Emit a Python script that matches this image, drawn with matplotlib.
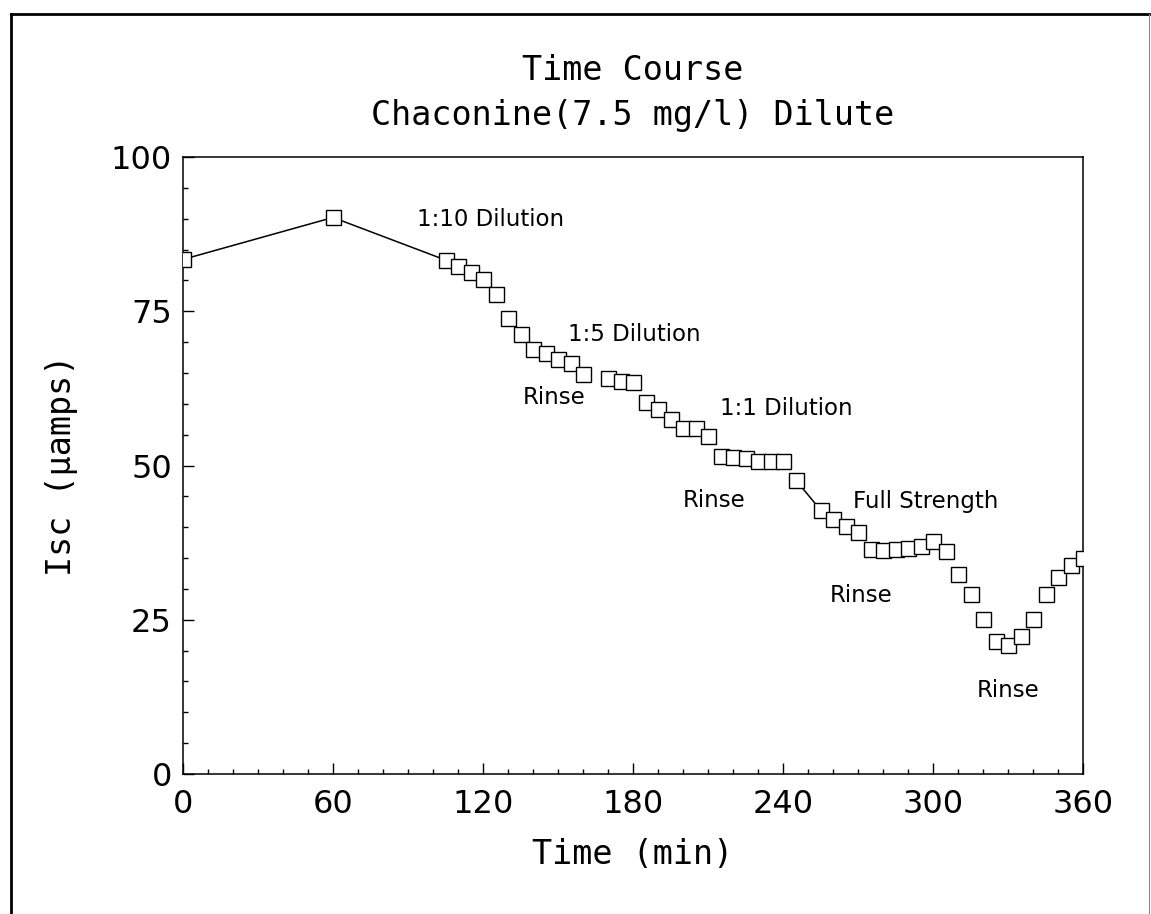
import matplotlib
matplotlib.use("Agg")
import matplotlib.pyplot as plt
from matplotlib.lines import Line2D

# ---- data ----
time_min = [0, 60, 105, 110, 115, 120, 125, 130, 135, 140, 145, 150, 155, 160,
            170, 175, 180, 185, 190, 195, 200, 205, 210, 215, 220, 225, 230, 235,
            240, 245, 255, 260, 265, 270, 275, 280, 285, 290, 295, 300, 305, 310,
            315, 320, 325, 330, 335, 340, 345, 350, 355, 360]
isc_uamps = [83.4, 90.2, 83.3, 82.4, 81.4, 80.3, 77.8, 73.9, 71.3, 68.9, 68.2, 67.3,
             66.6, 64.8, 64.2, 63.7, 63.6, 60.3, 59.1, 57.5, 56.1, 56.0, 54.8, 51.5,
             51.3, 51.2, 50.7, 50.7, 50.8, 47.7, 42.8, 41.3, 40.2, 39.3, 36.4, 36.3,
             36.5, 36.6, 37.0, 37.8, 36.2, 32.4, 29.2, 25.1, 21.5, 20.9, 22.3, 25.1,
             29.2, 32.0, 33.9, 35.0]
# index ranges of the points joined by a visible line in the reference
connected_runs = [(0, 3), (29, 31)]

x_ticks = [0, 60, 120, 180, 240, 300, 360]
y_ticks = [0, 25, 50, 75, 100]

annotations = ["1:10 Dilution", "1:5 Dilution", "Rinse", "1:1 Dilution",
               "Rinse", "Full Strength", "Rinse", "Rinse"]
annot_xy = [(93.5, 89.8), (154, 71.2), (136, 61.1), (214.8, 59.3),
            (200, 44.4), (268, 44.1), (258.8, 29.0), (317.6, 13.6)]

title_lines = ["Time Course", "Chaconine(7.5 mg/l) Dilute"]
xlabel = "Time (min)"
ylabel = "Isc (\u00b5amps)"

# ---- figure ----
W, H = 1151, 914
fig = plt.figure(figsize=(W / 100, H / 100), dpi=100)
fig.patch.set_facecolor("white")

L, R, T, B = 183, 1083, 157, 774
ax = fig.add_axes([L / W, 1 - B / H, (R - L) / W, (B - T) / H])

mono = "DejaVu Sans Mono"

for i0, i1 in connected_runs:
    ax.plot(time_min[i0:i1], isc_uamps[i0:i1], color="black", lw=1.1, zorder=2)
ax.plot(time_min, isc_uamps, linestyle="none", marker="s", markersize=10.8,
        markerfacecolor="white", markeredgecolor="black", markeredgewidth=1.0,
        zorder=3, clip_on=True)

ax.set_xlim(0, 360)
ax.set_ylim(0, 100)
ax.set_xticks(x_ticks)
ax.set_yticks(y_ticks)
ax.set_xticks(range(0, 361, 10), minor=True)
ax.set_yticks(range(0, 101, 5), minor=True)
ax.tick_params(axis="both", which="major", direction="in", length=8, width=1.0,
               labelsize=23)
ax.tick_params(axis="both", which="minor", direction="in", length=3.8, width=1.0)
ax.tick_params(axis="x", which="major", pad=11)
ax.tick_params(axis="y", which="major", pad=8)
for lab in ax.get_xticklabels() + ax.get_yticklabels():
    lab.set_fontfamily("DejaVu Sans")
for s in ax.spines.values():
    s.set_linewidth(1.1)

for txt, (tx, ty) in zip(annotations, annot_xy):
    ax.text(tx, ty, txt, ha="left", va="center", fontsize=16.5,
            family="DejaVu Sans", color="black")

cx = (L + R) / 2 / W
fig.text(cx, 1 - 70 / H, title_lines[0], ha="center", va="center",
         fontsize=24, family=mono)
fig.text(cx, 1 - 115 / H, title_lines[1], ha="center", va="center",
         fontsize=24, family=mono)
fig.text(cx, 1 - 855 / H, xlabel, ha="center", va="center",
         fontsize=24, family=mono)
fig.text(62 / W, 1 - ((T + B) / 2) / H, ylabel, ha="center", va="center",
         rotation=90, fontsize=24, family=mono)

# outer frame of the scanned page
fig.add_artist(Line2D([11 / W, 11 / W], [0, 1 - 14 / H], transform=fig.transFigure,
                      color="black", lw=2.0))
fig.add_artist(Line2D([11 / W, 1149 / W], [1 - 14 / H, 1 - 14 / H],
                      transform=fig.transFigure, color="black", lw=2.0))
fig.add_artist(Line2D([1149 / W, 1149 / W], [0, 1 - 14 / H], transform=fig.transFigure,
                      color="#888888", lw=0.8))

fig.savefig("out.png", dpi=100, facecolor="white")
